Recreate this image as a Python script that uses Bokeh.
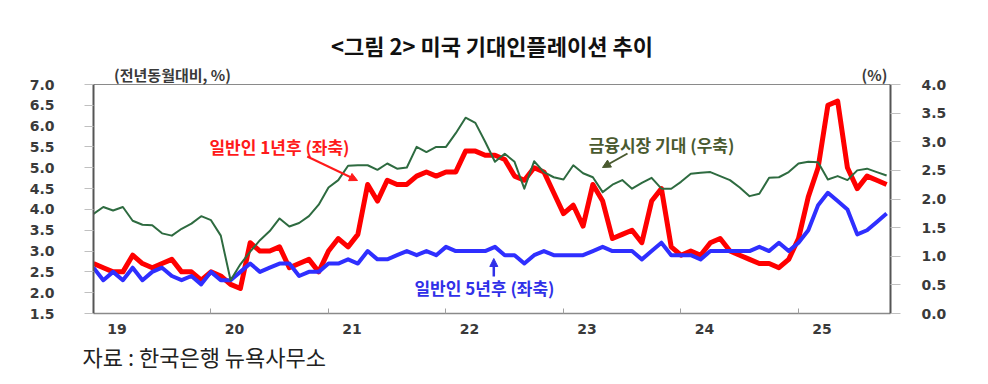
from bokeh.plotting import figure
from bokeh.models import (Range1d, LinearAxis, FixedTicker, Label, Arrow, NormalHead,
                          NumeralTickFormatter, Title)
from bokeh.embed import file_html
from bokeh.resources import INLINE

# ---------------- data ----------------
year_labels = ["19", "20", "21", "22", "23", "24", "25"]
left_ticks = [1.5, 2.0, 2.5, 3.0, 3.5, 4.0, 4.5, 5.0, 5.5, 6.0, 6.5, 7.0]
right_ticks = [0.0, 0.5, 1.0, 1.5, 2.0, 2.5, 3.0, 3.5, 4.0]

# 일반인 1년후 (좌축), monthly Jan 2019 - Oct 2025
consumer_1y = [
    2.7, 2.6, 2.5, 2.5, 2.9, 2.7, 2.6, 2.7, 2.8, 2.5, 2.5, 2.3,
    2.5, 2.4, 2.2, 2.1, 3.2, 3.0, 3.0, 3.1, 2.6, 2.7, 2.8, 2.5,
    3.0, 3.3, 3.1, 3.4, 4.6, 4.2, 4.7, 4.6, 4.6, 4.8, 4.9, 4.8,
    4.9, 4.9, 5.4, 5.4, 5.3, 5.3, 5.2, 4.8, 4.7, 5.0, 4.9, 4.4,
    3.9, 4.1, 3.6, 4.6, 4.2, 3.3, 3.4, 3.5, 3.2, 4.2, 4.5, 3.1,
    2.9, 3.0, 2.9, 3.2, 3.3, 3.0, 2.9, 2.8, 2.7, 2.7, 2.6, 2.8,
    3.3, 4.3, 5.0, 6.5, 6.6, 5.0, 4.5, 4.8, 4.7, 4.6,
]
# 일반인 5년후 (좌축)
consumer_5y = [
    2.6, 2.3, 2.5, 2.3, 2.6, 2.3, 2.5, 2.6, 2.4, 2.3, 2.4, 2.2,
    2.5, 2.3, 2.3, 2.5, 2.7, 2.5, 2.6, 2.7, 2.7, 2.4, 2.5, 2.5,
    2.7, 2.7, 2.8, 2.7, 3.0, 2.8, 2.8, 2.9, 3.0, 2.9, 3.0, 2.9,
    3.1, 3.0, 3.0, 3.0, 3.0, 3.1, 2.9, 2.9, 2.7, 2.9, 3.0, 2.9,
    2.9, 2.9, 2.9, 3.0, 3.1, 3.0, 3.0, 3.0, 2.8, 3.0, 3.2, 2.9,
    2.9, 2.9, 2.8, 3.0, 3.0, 3.0, 3.0, 3.0, 3.1, 3.0, 3.2, 3.0,
    3.2, 3.5, 4.1, 4.4, 4.2, 4.0, 3.4, 3.5, 3.7, 3.9,
]
# 금융시장 기대 (우축)
market = [
    1.74, 1.86, 1.80, 1.86, 1.62, 1.55, 1.54, 1.40, 1.36, 1.48, 1.57, 1.70,
    1.63, 1.36, 0.58, 0.86, 1.08, 1.28, 1.44, 1.66, 1.52, 1.58, 1.70, 1.90,
    2.20, 2.33, 2.58, 2.59, 2.59, 2.51, 2.62, 2.53, 2.55, 2.91, 2.82, 2.91,
    2.91, 3.15, 3.42, 3.33, 3.00, 2.65, 2.79, 2.65, 2.18, 2.66, 2.47, 2.38,
    2.34, 2.59, 2.45, 2.38, 2.12, 2.25, 2.33, 2.18, 2.28, 2.37, 2.18, 2.18,
    2.30, 2.44, 2.46, 2.47, 2.40, 2.33, 2.20, 2.05, 2.09, 2.37, 2.38, 2.47,
    2.62, 2.65, 2.64, 2.34, 2.40, 2.33, 2.50, 2.53, 2.47, 2.41,
]
header_texts = ["(전년동월대비, %)", "(%)"]
title_text = "<그림 2> 미국 기대인플레이션 추이"
source_text = "자료 : 한국은행 뉴욕사무소"

start_year = 2019
months = [start_year + i / 12 for i in range(len(consumer_1y))]

# ---------------- layout helpers (page pixels) ----------------
W, H = 980, 376
FRAME_L, FRAME_T, FRAME_W, FRAME_H = 93, 84, 797, 229
PX_PER_YEAR = FRAME_W / 6.783
X_END = start_year + FRAME_W / PX_PER_YEAR


def fx(px):
    return start_year + (px - FRAME_L) / PX_PER_YEAR


def fy(py):
    return 1.5 + (FRAME_T + FRAME_H - py) * 5.5 / FRAME_H


kfont = "Noto Sans CJK KR"
tick_font = "DejaVu Sans"

p = figure(width=W, height=H, output_backend="svg", toolbar_location=None,
           x_range=Range1d(start_year, X_END), y_range=Range1d(1.5, 7.0),
           min_border_left=FRAME_L, min_border_top=FRAME_T,
           min_border_right=W - FRAME_L - FRAME_W,
           min_border_bottom=H - FRAME_T - FRAME_H)
p.extra_y_ranges = {"r": Range1d(0, 4)}
p.xgrid.visible = False
p.ygrid.visible = False
p.background_fill_color = "white"
p.border_fill_color = "white"
p.outline_line_color = "#8a8a8a"
p.outline_line_width = 1

xa = p.below[0]
ya = p.left[0]

# title
p.title.text = title_text
p.title.align = "center"
p.title.offset = 8
p.title.standoff = 0
p.title.text_font = kfont
p.title.text_font_size = "22px"
p.title.text_font_style = "bold"
p.title.text_color = "#111111"

# left axis
ya.ticker = FixedTicker(ticks=left_ticks)
ya.formatter = NumeralTickFormatter(format="0.0")
ya.axis_line_color = "#555555"
ya.axis_line_width = 2
ya.major_tick_in = 0
ya.major_tick_out = 9
ya.major_tick_line_color = "#c0c0c0"
ya.minor_tick_line_color = None
ya.major_label_standoff = 30
ya.major_label_text_font = tick_font
ya.major_label_text_font_style = "bold"
ya.major_label_text_font_size = "14px"
ya.major_label_text_color = "#3a3a3a"

# right axis
ra = LinearAxis(y_range_name="r", ticker=FixedTicker(ticks=right_ticks),
                formatter=NumeralTickFormatter(format="0.0"))
ra.axis_line_color = "#555555"
ra.axis_line_width = 2
ra.major_tick_in = 0
ra.major_tick_out = 10
ra.major_tick_line_color = "#c0c0c0"
ra.minor_tick_line_color = None
ra.major_label_standoff = 21
ra.major_label_text_font = tick_font
ra.major_label_text_font_style = "bold"
ra.major_label_text_font_size = "14px"
ra.major_label_text_color = "#3a3a3a"
p.add_layout(ra, "right")

# bottom axis
label_pos = [start_year + k + 0.2 for k in range(len(year_labels))]
year_bounds = [start_year + k for k in range(1, len(year_labels))]
xa.ticker = FixedTicker(ticks=label_pos, minor_ticks=year_bounds)
xa.major_label_overrides = {pos: lab for pos, lab in zip(label_pos, year_labels)}
xa.axis_line_color = "#8a8a8a"
xa.axis_line_width = 1.5
xa.major_tick_line_color = None
xa.major_tick_in = 0
xa.major_tick_out = 0
xa.minor_tick_in = 5
xa.minor_tick_out = 0
xa.minor_tick_line_color = "#a0a0a0"
xa.major_label_standoff = 10
xa.major_label_text_font = tick_font
xa.major_label_text_font_style = "bold"
xa.major_label_text_font_size = "14px"
xa.major_label_text_color = "#3a3a3a"

# header "axis" above the frame (unit captions)
header_pos = [fx(172), fx(874)]
ha = LinearAxis(ticker=FixedTicker(ticks=header_pos),
                major_label_overrides={pos: t for pos, t in zip(header_pos, header_texts)})
ha.axis_line_color = None
ha.major_tick_line_color = None
ha.minor_tick_line_color = None
ha.major_tick_in = 0
ha.major_tick_out = 0
ha.major_label_standoff = 0
ha.major_label_text_font = kfont
ha.major_label_text_font_style = "bold"
ha.major_label_text_font_size = "15px"
ha.major_label_text_color = "#3a3a3a"
p.add_layout(ha, "above")

# source note below
src = Title(text=source_text, align="left", offset=-11, standoff=2,
            text_font=kfont, text_font_size="22px", text_font_style="normal",
            text_color="#222222")
p.add_layout(src, "below")

# lines
p.line(months, consumer_1y, line_color="#ff0000", line_width=5, line_join="round")
p.line(months, consumer_5y, line_color="#2f2fff", line_width=4, line_join="round")
p.line(months, market, y_range_name="r", line_color="#2e6b40", line_width=2, line_join="round")

# annotation texts
p.add_layout(Label(x=fx(279), y=fy(146), text="일반인 1년후 (좌축)", text_align="center",
                   text_baseline="middle", text_font=kfont, text_font_size="17px",
                   text_font_style="bold", text_color="#ff1a1a"))
p.add_layout(Label(x=fx(661), y=fy(144), text="금융시장 기대 (우축)", text_align="center",
                   text_baseline="middle", text_font=kfont, text_font_size="17px",
                   text_font_style="bold", text_color="#4a5a30"))
p.add_layout(Label(x=fx(484), y=fy(287), text="일반인 5년후 (좌축)", text_align="center",
                   text_baseline="middle", text_font=kfont, text_font_size="17px",
                   text_font_style="bold", text_color="#3030e8"))

p.add_layout(Arrow(x_start=fx(306.7), y_start=fy(156), x_end=fx(357), y_end=fy(180),
                   line_color="#ff1a1a", line_width=2,
                   end=NormalHead(size=8, fill_color="#ff1a1a", line_color="#ff1a1a")))
p.add_layout(Arrow(x_start=fx(627), y_start=fy(153), x_end=fx(602), y_end=fy(167),
                   line_color="#4a5a30", line_width=2,
                   end=NormalHead(size=8, fill_color="#4a5a30", line_color="#4a5a30")))
p.add_layout(Arrow(x_start=fx(493.3), y_start=fy(276), x_end=fx(493.3), y_end=fy(258),
                   line_color="#3030e8", line_width=2.5,
                   end=NormalHead(size=8, fill_color="#3030e8", line_color="#3030e8")))

open("out.html", "w").write(file_html(p, INLINE))
